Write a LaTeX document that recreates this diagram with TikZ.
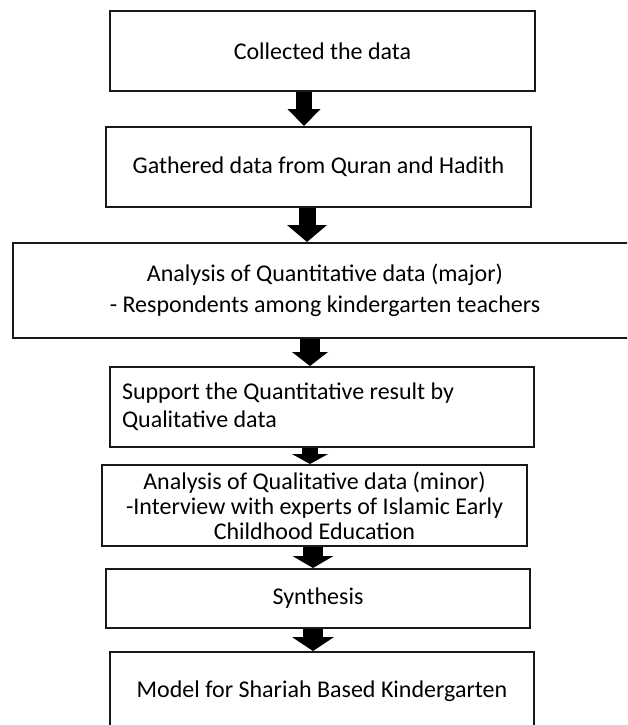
\documentclass[tikz,border=0pt]{standalone}
\usepackage{fontspec}
\setmainfont{Carlito}
\usetikzlibrary{arrows.meta}
\tikzset{
  box/.style={draw=black!90, line width=2pt, fill=white, inner sep=0pt,
    font=\fontsize{24pt}{29pt}\selectfont, align=center},
  barrow/.style n args={3}{draw=black, line width=#1,
    -{Triangle[width=#2, length=#3, line width=0pt]}}
}
\begin{document}
\begin{tikzpicture}[x=1pt,y=-1pt]
\useasboundingbox (0,0) rectangle (627,725);
\clip (0,0) rectangle (627,725);

\node[box, minimum width=425, minimum height=80] (b1) at (322.5,51) {Collected the data};
\node[box, minimum width=425, minimum height=80] (b2) at (318.5,167) {Gathered data from Quran and Hadith};
\node[box, minimum width=624, minimum height=95, font=\fontsize{24pt}{31pt}\selectfont] (b3) at (325,290.5)
  {Analysis of Quantitative data (major)\\- Respondents among kindergarten teachers};
\node[box, minimum width=424, minimum height=80, text width=400, align=flush left, font=\fontsize{24pt}{28pt}\selectfont] (b4) at (322,407)
  {Support the Quantitative result by\\Qualitative data};
\node[box, minimum width=425, minimum height=81, font=\fontsize{24pt}{25pt}\selectfont] (b5) at (314.5,505.5)
  {Analysis of Qualitative data (minor)\\-Interview with experts of Islamic Early\\Childhood Education};
\node[box, minimum width=424, minimum height=59] (b6) at (318,598.5) {Synthesis};
\node[box, minimum width=424, minimum height=78] (b7) at (322,691) {Model for Shariah Based Kindergarten};

\coordinate (x1) at (304,0);
\coordinate (x2) at (307,0);
\coordinate (x3) at (310,0);
\coordinate (x4) at (310,0);
\coordinate (x5) at (313,0);
\coordinate (x6) at (313,0);

\draw[barrow={16pt}{33pt}{17pt}] (b1.south -| x1) -- (b2.north -| x1);
\draw[barrow={17pt}{40pt}{17pt}] (b2.south -| x2) -- (b3.north -| x2);
\draw[barrow={20pt}{36pt}{14pt}] (b3.south -| x3) -- (b4.north -| x3);
\draw[barrow={16pt}{36pt}{10pt}] (b4.south -| x4) -- (b5.north -| x4);
\draw[barrow={20pt}{41pt}{12pt}] (b5.south -| x5) -- (b6.north -| x5);
\draw[barrow={20pt}{42pt}{14pt}] (b6.south -| x6) -- (b7.north -| x6);
\end{tikzpicture}
\end{document}
